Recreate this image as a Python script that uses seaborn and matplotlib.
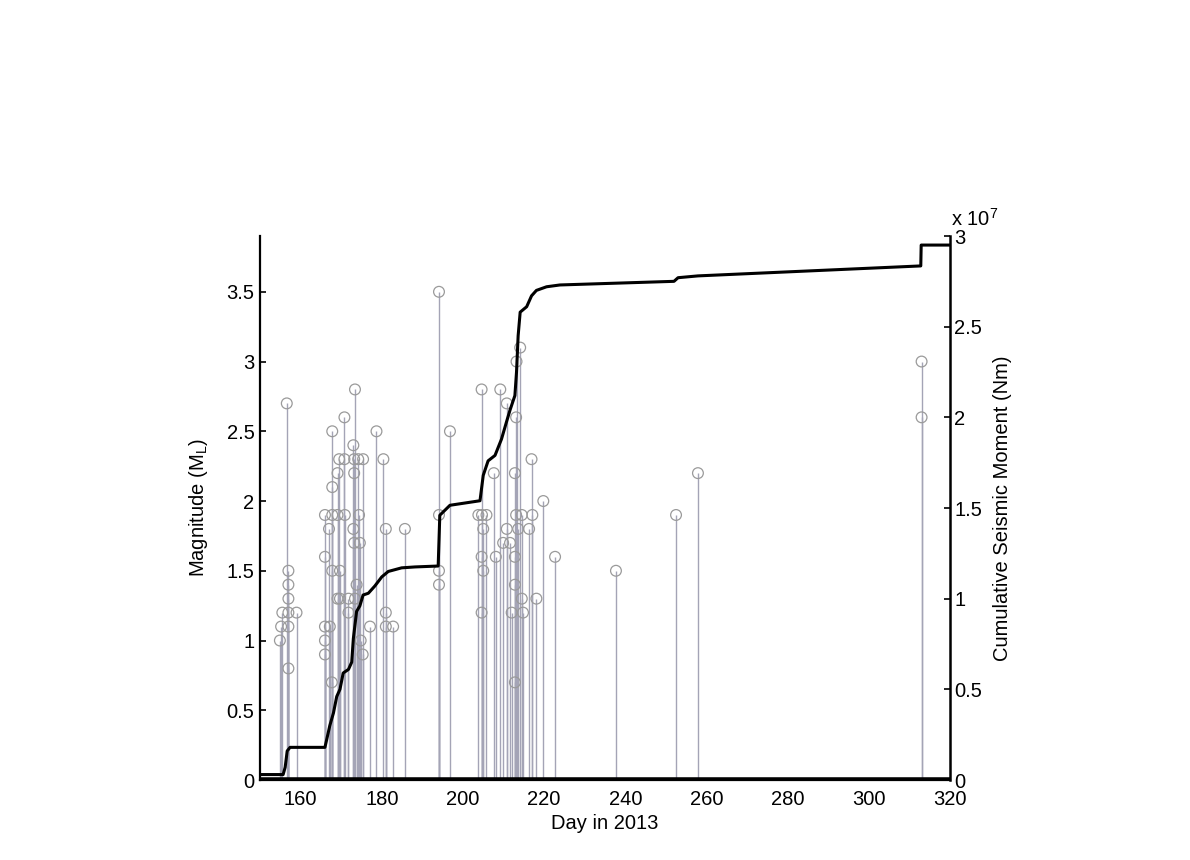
import matplotlib
matplotlib.use("Agg")
import matplotlib.pyplot as plt
import seaborn as sns
import numpy as np
import pandas as pd

# ---- Data: events (day of year 2013, local magnitude) ----
event_day = [
    154.9, 155.2, 155.5, 156.6, 157.0, 157.0, 157.0, 157.0, 157.0, 157.0, 159.0,
    166.0, 166.0, 166.0, 166.0, 166.0, 167.0, 167.2, 167.7, 167.8, 167.8, 167.8, 167.8,
    169.1, 169.1, 169.1, 169.5, 169.7, 169.7, 170.8, 170.8, 170.9, 171.8, 171.8,
    173.0, 173.0, 173.2, 173.2, 173.2, 173.4, 173.4, 173.8, 174.2, 174.4, 174.6,
    174.8, 175.3, 175.4, 177.1, 178.7, 180.4, 181.0, 181.0, 181.0, 182.8, 185.7,
    194.1, 194.1, 194.1, 194.1, 196.8,
    203.8, 204.6, 204.6, 204.6, 204.7, 205.0, 205.0, 205.8, 207.6, 208.1, 209.2,
    209.9, 210.8, 210.8, 211.6, 212.0, 212.8, 212.8, 212.8, 212.8, 213.1, 213.1,
    213.2, 213.6, 214.1, 214.5, 214.5, 214.8, 216.3, 216.9, 217.1, 218.1, 219.8,
    222.7, 237.7, 252.5, 257.9, 313.0, 313.0,
]
event_mag = [
    1.0, 1.1, 1.2, 2.7, 1.5, 1.4, 1.3, 1.2, 1.1, 0.8, 1.2,
    1.9, 1.6, 1.1, 1.0, 0.9, 1.8, 1.1, 0.7, 2.5, 2.1, 1.9, 1.5,
    2.2, 1.9, 1.3, 2.3, 1.5, 1.3, 2.6, 2.3, 1.9, 1.3, 1.2,
    2.4, 1.8, 2.3, 2.2, 1.7, 2.8, 1.3, 1.4, 2.3, 1.9, 1.7,
    1.0, 0.9, 2.3, 1.1, 2.5, 2.3, 1.8, 1.2, 1.1, 1.1, 1.8,
    3.5, 1.9, 1.5, 1.4, 2.5,
    1.9, 2.8, 1.6, 1.2, 1.9, 1.8, 1.5, 1.9, 2.2, 1.6, 2.8,
    1.7, 2.7, 1.8, 1.7, 1.2, 2.2, 1.6, 1.4, 0.7, 2.6, 1.9,
    3.0, 1.8, 3.1, 1.9, 1.3, 1.2, 1.8, 2.3, 1.9, 1.3, 2.0,
    1.6, 1.5, 1.9, 2.2, 3.0, 2.6,
]

# ---- Data: cumulative seismic moment (units of 1e7 Nm) ----
moment_day = [
    150.0, 155.7, 156.2, 156.7, 157.4, 166.0, 167.2, 168.1, 168.9, 169.7, 170.5,
    171.8, 172.6, 173.0, 173.8, 174.6, 175.4, 176.7, 178.3, 180.0, 181.6, 184.9,
    188.2, 193.9, 194.3, 196.8, 204.2, 205.0, 206.2, 207.9, 209.5, 210.8, 211.6,
    212.8, 213.2, 213.6, 214.1, 215.7, 216.9, 218.1, 220.6, 223.9, 252.0, 253.0,
    257.9, 312.8, 312.9, 320.0,
]
moment_cum = [
    0.03, 0.03, 0.07, 0.16, 0.18, 0.18, 0.30, 0.37, 0.46, 0.50, 0.59,
    0.61, 0.65, 0.78, 0.93, 0.96, 1.02, 1.03, 1.07, 1.12, 1.15, 1.17,
    1.175, 1.18, 1.46, 1.515, 1.54, 1.68, 1.76, 1.79, 1.88, 1.98, 2.04,
    2.12, 2.25, 2.45, 2.58, 2.61, 2.67, 2.70, 2.72, 2.73, 2.75, 2.77,
    2.78, 2.835, 2.95, 2.95,
]

x_ticks = [160, 180, 200, 220, 240, 260, 280, 300, 320]
left_ticks = [0, 0.5, 1, 1.5, 2, 2.5, 3, 3.5]
left_tick_labels = ["0", "0.5", "1", "1.5", "2", "2.5", "3", "3.5"]
right_ticks = [0, 0.5, 1, 1.5, 2, 2.5, 3]
right_tick_labels = ["0", "0.5", "1", "1.5", "2", "2.5", "3"]

events = pd.DataFrame({"day": event_day, "mag": event_mag})
moment = pd.DataFrame({"day": moment_day, "cum": moment_cum})

sns.set_theme(style="white")
plt.rcParams["font.family"] = ["Liberation Sans", "DejaVu Sans"]
plt.rcParams["font.size"] = 14.5
plt.rcParams["text.color"] = "black"
plt.rcParams["axes.labelcolor"] = "black"

FS = 14.5

fig = plt.figure(figsize=(11.9, 8.6), dpi=100)
ax = fig.add_axes([260 / 1190, 1 - 780 / 860, 690 / 1190, 544 / 860])

# stems
ax.vlines(events["day"], 0, events["mag"], colors="#a4a4b6", linewidth=1.0, zorder=1)
sns.scatterplot(data=events, x="day", y="mag", ax=ax, marker="o", s=60,
                facecolors="none", edgecolor="#9a9a9a", linewidth=0.9, zorder=2,
                legend=False)
ax.axhline(0, color="black", linewidth=4, zorder=3)

ax.set_xlim(150, 320)
ax.set_ylim(0, 3.9)
ax.set_xticks(x_ticks)
ax.set_xticklabels([str(t) for t in x_ticks])
ax.set_yticks(left_ticks)
ax.set_yticklabels(left_tick_labels)
ax.set_xlabel("Day in 2013", fontsize=FS, labelpad=4, color="black")
ax.set_ylabel("Magnitude (M$_\\mathregular{L}$)", fontsize=FS, labelpad=12, color="black")
ax.tick_params(axis="both", direction="in", length=4, width=1.2, colors="black",
               labelsize=FS, pad=4)
ax.tick_params(axis="x", pad=7)
for side in ["left", "bottom"]:
    ax.spines[side].set_color("black")
    ax.spines[side].set_linewidth(1.6)
ax.spines["top"].set_visible(False)
ax.spines["right"].set_visible(False)

ax2 = ax.twinx()
sns.lineplot(data=moment, x="day", y="cum", ax=ax2, color="black", linewidth=2.2,
             sort=False, estimator=None, zorder=4)
ax2.set_ylim(0, 3)
ax2.set_xlim(150, 320)
ax2.set_yticks(right_ticks)
ax2.set_yticklabels(right_tick_labels)
ax2.set_ylabel("Cumulative Seismic Moment (Nm)", fontsize=FS, labelpad=8, color="black")
ax2.tick_params(axis="y", direction="in", length=4, width=1.2, colors="black",
                labelsize=FS, pad=3)
ax2.spines["right"].set_color("black")
ax2.spines["right"].set_linewidth(1.8)
for side in ["top", "left", "bottom"]:
    ax2.spines[side].set_visible(False)
ax2.text(1.002, 1.012, "x 10$^\\mathregular{7}$", transform=ax2.transAxes,
         ha="left", va="bottom", fontsize=FS)

fig.savefig("out.png", dpi=100, facecolor="white")
